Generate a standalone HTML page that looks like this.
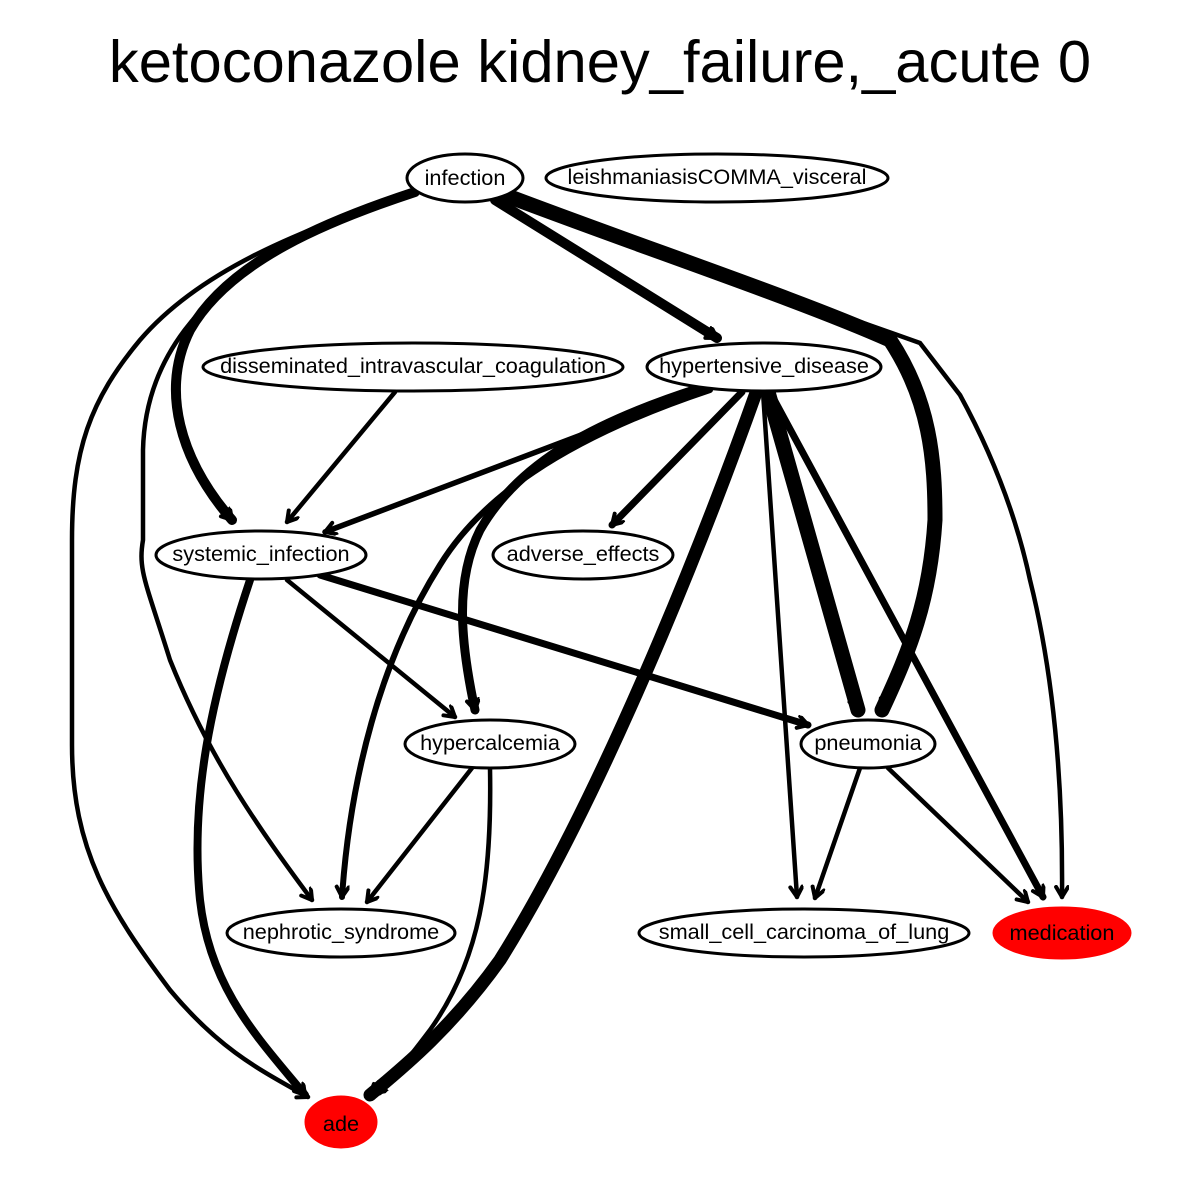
<!DOCTYPE html>
<html><head><meta charset="utf-8"><style>
html,body{margin:0;padding:0;background:#fff;}
svg{display:block;}
text{font-family:"Liberation Sans",sans-serif;}
</style></head><body>
<svg width="1200" height="1200" viewBox="0 0 1200 1200" xmlns="http://www.w3.org/2000/svg">
<defs>
<marker id="a" markerUnits="userSpaceOnUse" markerWidth="16" markerHeight="16" refX="12" refY="7" orient="auto">
<path d="M2,1 L12,7 L2,13" fill="none" stroke="#000" stroke-width="4" stroke-linecap="round" stroke-linejoin="round"/>
</marker>
</defs>
<rect width="1200" height="1200" fill="#fff"/>
<text x="600" y="82" font-size="59.7" text-anchor="middle">ketoconazole kidney_failure,_acute 0</text>
<g fill="none" stroke="#000" stroke-linecap="round" marker-end="url(#a)">
<path d="M415,192 C330,220 230,260 190,330 C160,390 180,460 232,520" stroke-width="10"/>
<path d="M415,192 C300,230 200,270 140,340 C90,400 72,450 72,540 L72,745 C72,850 110,910 170,990 C220,1050 260,1070 308,1097" stroke-width="4.5"/>
<path d="M300,240 C200,290 145,360 143,450 L143,540 C138,570 145,580 170,660 C210,760 260,830 312,900" stroke-width="4.5"/>
<path d="M495,200 L717,338" stroke-width="10"/>
<path d="M505,195 C650,250 800,300 890,340 C930,400 935,460 935,520 C930,600 910,650 882,710" stroke-width="15"/>
<path d="M505,195 C650,250 800,300 920,343 L960,395 C990,450 1015,510 1030,580 C1055,680 1063,790 1062,897" stroke-width="4.5"/>
<path d="M395,392 L287,522" stroke-width="4.5"/>
<path d="M700,390 L325,532" stroke-width="5.5"/>
<path d="M742,392 L612,525" stroke-width="7"/>
<path d="M700,388 C600,420 520,460 480,530 C455,580 460,640 475,710" stroke-width="9"/>
<path d="M710,390 C560,440 480,500 440,565 C380,660 350,780 342,897" stroke-width="6"/>
<path d="M757,390 C700,550 600,800 500,960 C450,1030 400,1070 370,1095" stroke-width="13"/>
<path d="M763,392 L797,897" stroke-width="4.5"/>
<path d="M768,392 L858,710" stroke-width="15"/>
<path d="M770,392 L1043,897" stroke-width="7"/>
<path d="M250,580 C210,700 190,800 200,900 C210,990 260,1040 305,1095" stroke-width="8"/>
<path d="M287,580 L455,717" stroke-width="4.5"/>
<path d="M320,575 L808,725" stroke-width="7"/>
<path d="M472,768 L367,902" stroke-width="4.5"/>
<path d="M490,768 C492,880 480,960 430,1030 C400,1070 390,1080 375,1093" stroke-width="4.5"/>
<path d="M860,768 L815,898" stroke-width="4.5"/>
<path d="M888,768 L1028,902" stroke-width="4.5"/>
</g>
<g stroke="#000" stroke-width="3" fill="#fff">
<ellipse cx="465" cy="178" rx="58" ry="24"/>
<ellipse cx="717" cy="178" rx="171" ry="24"/>
<ellipse cx="413" cy="367" rx="210" ry="24"/>
<ellipse cx="764" cy="367" rx="117" ry="24"/>
<ellipse cx="261" cy="555" rx="105" ry="24"/>
<ellipse cx="583" cy="555" rx="90" ry="24"/>
<ellipse cx="490" cy="744" rx="85" ry="24"/>
<ellipse cx="868" cy="744" rx="67" ry="24"/>
<ellipse cx="341" cy="933" rx="114" ry="24"/>
<ellipse cx="804" cy="933" rx="165" ry="24"/>
<ellipse cx="1062" cy="933" rx="68" ry="25" fill="#f00" stroke="#f00"/>
<ellipse cx="341" cy="1122" rx="35" ry="25" fill="#f00" stroke="#f00"/>
</g>
<g font-size="21.7" text-anchor="middle" fill="#000">
<text x="465" y="185">infection</text>
<text x="717" y="184">leishmaniasisCOMMA_visceral</text>
<text x="413" y="373">disseminated_intravascular_coagulation</text>
<text x="764" y="373">hypertensive_disease</text>
<text x="261" y="561">systemic_infection</text>
<text x="583" y="561">adverse_effects</text>
<text x="490" y="750">hypercalcemia</text>
<text x="868" y="750">pneumonia</text>
<text x="341" y="939">nephrotic_syndrome</text>
<text x="804" y="939">small_cell_carcinoma_of_lung</text>
<text x="1062" y="940">medication</text>
<text x="341" y="1131">ade</text>
</g>
</svg>
</body></html>
